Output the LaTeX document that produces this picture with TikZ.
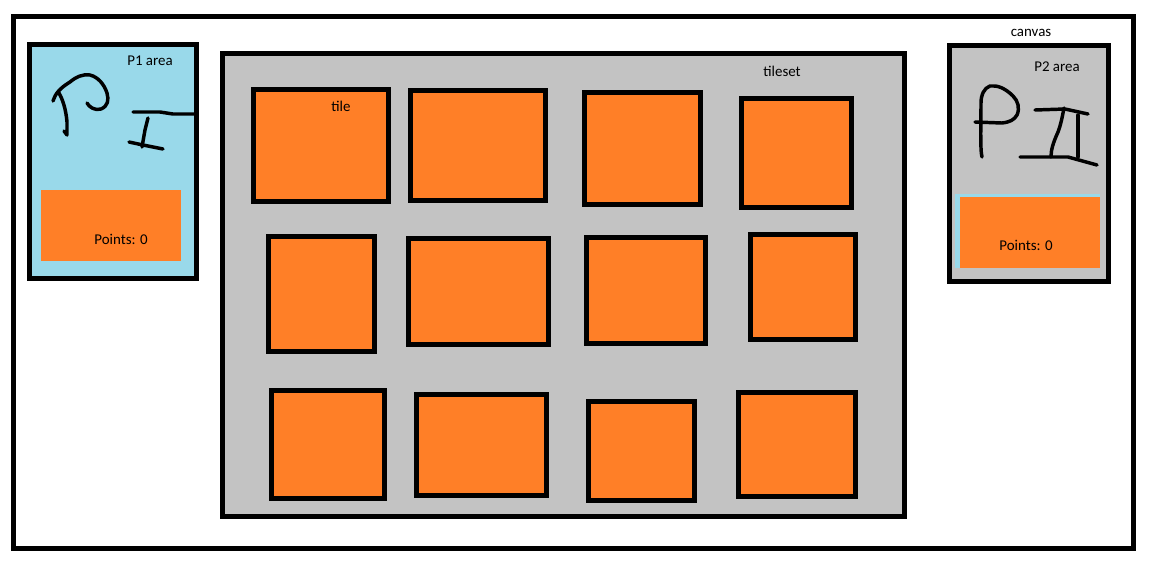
\documentclass[tikz,border=0pt]{standalone}
\usepackage{fontspec}
\setmainfont{Carlito}
\definecolor{lblue}{HTML}{99D9EA}
\definecolor{orng}{HTML}{FF7F27}
\definecolor{gry}{HTML}{C3C3C3}
\begin{document}
\begin{tikzpicture}[x=0.75pt,y=-0.75pt,
  lbl/.style={font=\fontsize{11.2}{13}\selectfont, inner sep=0pt},
  tilebox/.style={draw=black, line width=3.75pt, fill=orng},
  pen/.style={draw=black, line width=2.6pt, line cap=round, line join=round}]
\useasboundingbox (0,0) rectangle (1149,565);
\fill[white] (0,0) rectangle (1149,565);
% canvas
\draw[line width=3.75pt] (13.5,16.5) rectangle (1133.5,548.5);
\node[lbl] (canvaslbl) at (1031,33) {canvas};
% P1 area
\draw[line width=3.75pt, fill=lblue] (29.5,44) rectangle (196.5,278.5);
\fill[orng] (41,190) rectangle (181,261);
\node[lbl] (p1lbl) at (150,61) {P1 area};
\node[lbl] (p1pts) at (121,239) {Points: 0};
% P1 handwriting
\draw[pen] (53,101) .. controls (55,94) and (60,88) .. (70,82) .. controls (76,77) and (82,74) .. (90,75) .. controls (98,77) and (104,84) .. (107,93) .. controls (109,100) and (108,106) .. (101,109) .. controls (95,111) and (89,107) .. (87,103);
\draw[pen] (59,93) .. controls (63,100) and (66,110) .. (67,122) -- (67,135) -- (64,131);
\draw[pen] (133,112) -- (160,112) -- (173,114) -- (196,114);
\draw[pen] (148,118) -- (145,130) -- (142,147);
\draw[pen] (129,142) -- (143,145) -- (163,149);
% P2 area
\draw[line width=3.75pt, fill=gry] (949,45) rectangle (1108.5,281.5);
\fill[lblue] (955,194) rectangle (1100,268);
\fill[orng] (960,197) rectangle (1100,268);
\node[lbl] (p2lbl) at (1057,67) {P2 area};
\node[lbl] (p2pts) at (1026,245) {Points: 0};
% P2 handwriting
\draw[pen] (982,157) .. controls (980,150) and (981,120) .. (981,103) .. controls (981,95) and (984,88) .. (990,86) .. controls (997,85) and (1005,88) .. (1013,96) .. controls (1018,101) and (1020,108) .. (1017,115) .. controls (1014,120) and (1010,122) .. (1002,123) -- (975,122);
\draw[pen] (1035,110) -- (1065,109) -- (1088,114);
\draw[pen] (1064,108) .. controls (1062,118) and (1061,124) .. (1058,132) .. controls (1053,143) and (1051,150) .. (1051,157);
\draw[pen] (1078,115) -- (1078,157);
\draw[pen] (1020,157) -- (1068,157) -- (1097,165);
% tileset
\draw[line width=3.75pt, fill=gry] (222.5,53.5) rectangle (904,516.5);
\node[lbl] (tslbl) at (782,71) {tileset};
% tiles
\draw[tilebox] (253.5,89.5) rectangle (388.5,201.5);
\draw[tilebox] (410.5,90.5) rectangle (545.5,200.5);
\draw[tilebox] (584.5,92.5) rectangle (700.5,204.5);
\draw[tilebox] (741.5,98.5) rectangle (851.5,207.5);
\draw[tilebox] (268.5,236.5) rectangle (374.5,351.5);
\draw[tilebox] (408.5,238.5) rectangle (548.5,344.5);
\draw[tilebox] (586.5,237.5) rectangle (705.5,343.5);
\draw[tilebox] (750.5,234.5) rectangle (855.5,339.5);
\draw[tilebox] (271.5,390.5) rectangle (384.5,498.5);
\draw[tilebox] (416.5,394.5) rectangle (546.5,495.5);
\draw[tilebox] (588.5,401.5) rectangle (694.5,500.5);
\draw[tilebox] (738.5,392.5) rectangle (855.5,496.5);
\node[lbl] (tilelbl) at (341,106) {tile};
\end{tikzpicture}
\end{document}
